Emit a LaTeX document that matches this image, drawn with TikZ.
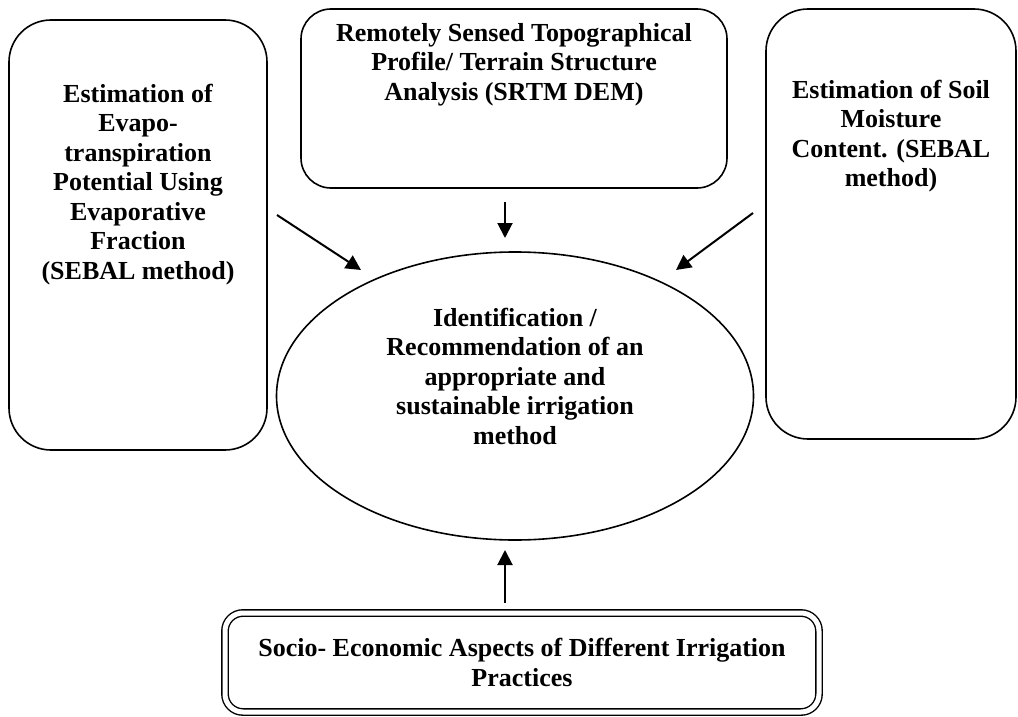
\documentclass[tikz,border=0pt]{standalone}
\usepackage{fontspec}
\setmainfont{Liberation Serif}
\usetikzlibrary{shapes.geometric, arrows.meta}
\begin{document}
\begin{tikzpicture}[x=1pt,y=-1pt,
  every node/.style={font=\bfseries\fontsize{26}{29.5}\selectfont},
  rbox/.style={draw, line width=1.6pt, inner sep=0pt, outer sep=0pt},
  ellbox/.style={draw, ellipse, line width=1.6pt, inner sep=0pt, align=center,
    minimum width=477pt, minimum height=288pt},
  dbox/.style={draw, double, line width=1.4pt, double distance=5pt, rounded corners=18pt,
    inner sep=0pt, align=center, minimum width=594pt, minimum height=99pt},
  arr/.style={line width=2pt, -{Triangle[length=15pt,width=15pt]}}]
\useasboundingbox (0,0) rectangle (1018,717);
\node[rbox, rounded corners=42pt] (left) at (138,235)
  {\begin{minipage}[c][430pt][t]{258pt}\centering\vspace*{64pt}Estimation of\\ Evapo-\\ transpiration\\ Potential Using\\ Evaporative\\ Fraction\\ (SEBAL method)\end{minipage}};
\node[rbox, rounded corners=30pt] (top) at (514,98.5)
  {\begin{minipage}[c][179pt][t]{426pt}\centering\vspace*{14pt}Remotely Sensed Topographical\\ Profile/ Terrain Structure\\ Analysis (SRTM DEM)\end{minipage}};
\node[rbox, rounded corners=42pt] (right) at (891,224)
  {\begin{minipage}[c][430pt][t]{250pt}\centering\vspace*{71pt}Estimation of Soil\\ Moisture\\ Content. (SEBAL\\ method)\end{minipage}};
\node[ellbox] (goal) at (515,396)
  {Identification /\\ Recommendation of an\\ appropriate and\\ sustainable irrigation\\ method\rule[-40pt]{0pt}{40pt}};
\node[dbox] (socio) at (522,662.5)
  {Socio- Economic Aspects of Different Irrigation\\ Practices};
\coordinate (lA) at (277,215); \coordinate (lB) at (361,270);
\coordinate (tA) at (505,202); \coordinate (tB) at (505,238);
\coordinate (rA) at (753,213); \coordinate (rB) at (676,270);
\coordinate (bA) at (505,603); \coordinate (bB) at (505,550);
\draw[arr] (lA) -- (lB);
\draw[arr] (tA) -- (tB);
\draw[arr] (rA) -- (rB);
\draw[arr] (bA) -- (bB);
\end{tikzpicture}
\end{document}
